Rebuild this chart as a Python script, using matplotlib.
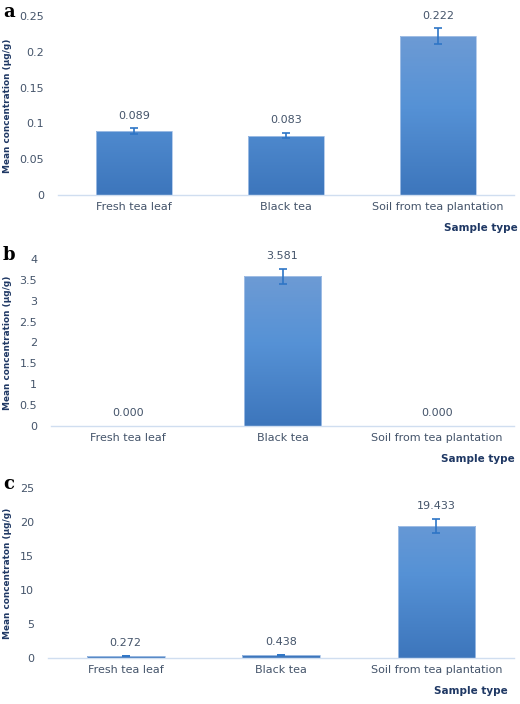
import numpy as np
import matplotlib.pyplot as plt
from matplotlib.colors import LinearSegmentedColormap

# sample types shared by the three panels
categories = ['Fresh tea leaf', 'Black tea', 'Soil from tea plantation']

# panel a
a_values = [0.089, 0.083, 0.222]
a_errors = [0.004, 0.004, 0.011]
a_labels = ['0.089', '0.083', '0.222']
a_ticks = [0, 0.05, 0.1, 0.15, 0.2, 0.25]
a_ticklabels = ['0', '0.05', '0.1', '0.15', '0.2', '0.25']

# panel b
b_values = [0.0, 3.581, 0.0]
b_errors = [0.0, 0.19, 0.0]
b_labels = ['0.000', '3.581', '0.000']
b_ticks = [0, 0.5, 1, 1.5, 2, 2.5, 3, 3.5, 4]
b_ticklabels = ['0', '0.5', '1', '1.5', '2', '2.5', '3', '3.5', '4']

# panel c
c_values = [0.272, 0.438, 19.433]
c_errors = [0.05, 0.05, 1.05]
c_labels = ['0.272', '0.438', '19.433']
c_ticks = [0, 5, 10, 15, 20, 25]
c_ticklabels = ['0', '5', '10', '15', '20', '25']

W, H = 520, 704
tick_col = '#44546a'
title_col = '#1f3864'
grad = LinearSegmentedColormap.from_list('bar', ['#3d76bc', '#5692d6', '#739dd4'])

fig = plt.figure(figsize=(W / 100, H / 100), dpi=100)


def panel(rect_px, values, errors, labels, ticks, ticklabels, ylabel, letter, stype_x):
    left, right, top, zero = rect_px
    ax = fig.add_axes([left / W, 1 - zero / H, (right - left) / W, (zero - top) / H])
    x = np.arange(len(categories))
    bars = ax.bar(x, values, width=0.5, color='none', edgecolor='#a9c4e8', linewidth=0.6, zorder=2)
    ymax = ticks[-1]
    for b in bars:
        bx, bw, bh = b.get_x(), b.get_width(), b.get_height()
        if bh <= 0:
            continue
        img = ax.imshow(np.linspace(0, 1, 100).reshape(-1, 1), cmap=grad, aspect='auto',
                        extent=[bx, bx + bw, 0, ymax], origin='lower', zorder=1)
        img.set_clip_path(b)
    # error bars only where there is a spread
    has_err = [i for i, e in enumerate(errors) if e > 0]
    ax.errorbar(x[has_err], [values[i] for i in has_err], yerr=[errors[i] for i in has_err],
                fmt='none', ecolor='#2e75c6', elinewidth=1.2, capsize=3, capthick=1.2, zorder=3)
    for xi, v, e, lab in zip(x, values, errors, labels):
        ax.annotate(lab, (xi, v + e), xytext=(0, 9), textcoords='offset points',
                    ha='center', va='center', fontsize=8, color=tick_col)
    ax.set_xlim(-0.5, 2.5)
    ax.set_ylim(0, ymax)
    ax.set_yticks(ticks)
    ax.set_yticklabels(ticklabels)
    ax.set_xticks(x)
    ax.set_xticklabels(categories)
    ax.tick_params(axis='both', length=0, labelsize=8, labelcolor=tick_col)
    ax.tick_params(axis='y', pad=10)
    ax.tick_params(axis='x', pad=5)
    for s in ['top', 'right', 'left']:
        ax.spines[s].set_visible(False)
    ax.spines['bottom'].set_color('#d0def0')
    ax.spines['bottom'].set_linewidth(1.0)
    ax.patch.set_alpha(0)
    fig.text(8 / W, 1 - (top + zero) / 2 / H, ylabel, rotation=90, ha='center', va='center',
             fontsize=6.4, fontweight='bold', color=title_col)
    fig.text(stype_x / W, 1 - (zero + 33) / H, 'Sample type', ha='right', va='center',
             fontsize=7.5, fontweight='bold', color=title_col)
    fig.text(3 / W, 1 - (top - 4) / H, letter, ha='left', va='center', fontsize=13,
             fontweight='bold', family='DejaVu Serif', color='black')
    return ax


panel((58, 514, 16, 195), a_values, a_errors, a_labels, a_ticks, a_ticklabels,
      'Mean concentration (µg/g)', 'a', 518)
panel((51, 514, 259, 426), b_values, b_errors, b_labels, b_ticks, b_ticklabels,
      'Mean concentration (µg/g)', 'b', 515)
panel((48, 514, 488, 658), c_values, c_errors, c_labels, c_ticks, c_ticklabels,
      'Mean concentraton (µg/g)', 'c', 508)

plt.savefig('out.png', dpi=100)
